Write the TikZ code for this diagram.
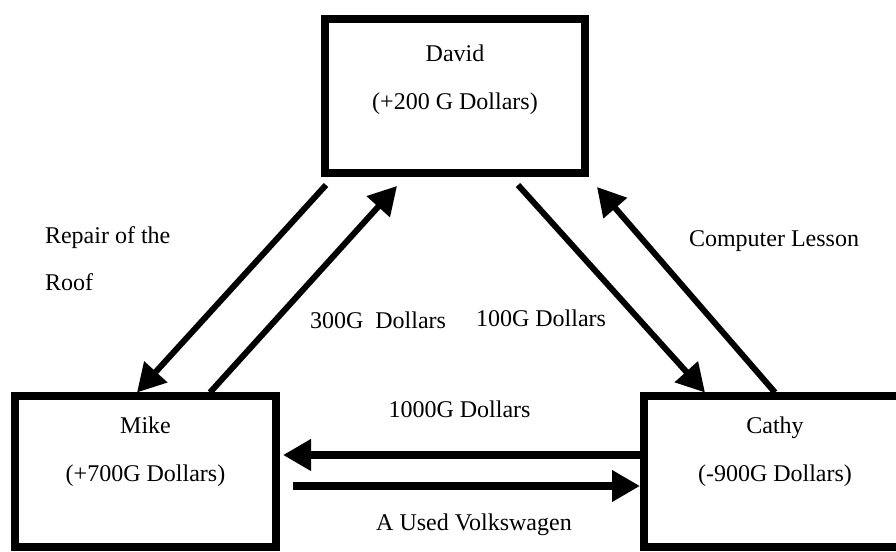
\documentclass[tikz,border=0pt]{standalone}
\usepackage{fontspec}
\setmainfont{Liberation Serif}
\usetikzlibrary{arrows.meta, calc, positioning}

\begin{document}
\begin{tikzpicture}[x=0.5pt, y=0.5pt, >={Triangle[length=14pt,width=15pt]},
    person/.style={draw, line width=4pt, minimum width=130.5pt, minimum height=75.5pt, inner sep=0pt},
    who/.style={align=center, font=\fontsize{12}{24}\selectfont},
    lbl/.style={font=\fontsize{12}{23.5}\selectfont},
    flow/.style={->, line width=3pt},
    trade/.style={->, line width=4pt}]
    \useasboundingbox (0,0) rectangle (896,552);
    \clip (0,0) rectangle (896,552);

    % People
    \node[person, minimum width=130pt, minimum height=77pt] (david) at (455,456) {};
    \node[person] (mike) at (145.5,80) {};
    \node[person, minimum width=131pt] (cathy) at (775,80) {};
    \node[who] (davidtxt) at ($(david.center)+(0,16)$) {David\\(+200 G Dollars)};
    \node[who] (miketxt) at ($(mike.center)+(0,20)$) {Mike\\(+700G Dollars)};
    \node[who] (cathytxt) at ($(cathy.center)+(0,20)$) {Cathy\\(-900G Dollars)};

    % David <-> Mike
    \draw[flow] ($(david.south west)+(5,-8)$) -- ($(mike.north)+(-8.5,0)$);
    \draw[flow] ($(mike.north)+(64.5,0)$) -- ($(david.south west)+(76,-9)$);
    \node[lbl, align=left, anchor=west] (repair) at (38,293) {Repair of the\\Roof};
    \node[lbl] (mikepay) at (378,232) {300G\ \ Dollars};

    % David <-> Cathy
    \draw[flow] ($(david.south east)+(-71,-8)$) -- ($(cathy.north west)+(65,0)$);
    \draw[flow] (cathy.north) -- ($(david.south east)+(8,-10)$);
    \node[lbl] (davidpay) at (541,234) {100G Dollars};
    \node[lbl] (lesson) at (774,311) {Computer Lesson};

    % Mike <-> Cathy
    \draw[trade] ($(cathy.west)+(0,17)$) -- ($(mike.east)+(3,17)$);
    \draw[trade] ($(mike.east)+(13,-14)$) -- ($(cathy.west)+(0,-14)$);
    \node[lbl] (cathypay) at (459.5,143) {1000G Dollars};
    \node[lbl] (car) at (474,27) {A Used Volkswagen};
\end{tikzpicture}
\end{document}
